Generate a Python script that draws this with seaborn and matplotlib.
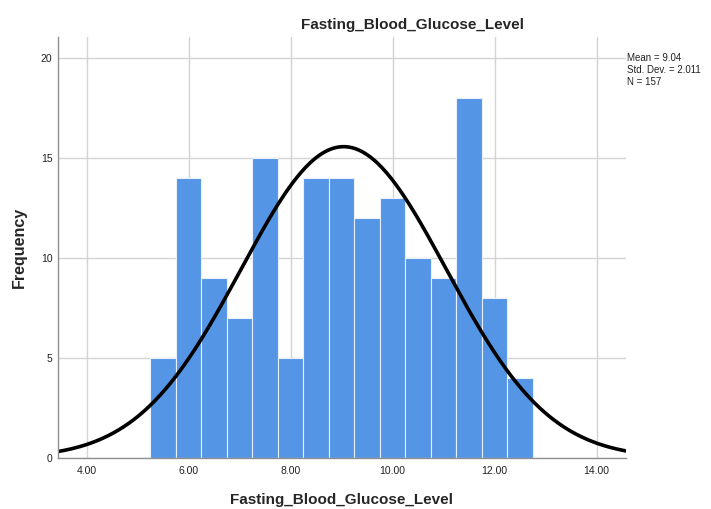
import numpy as np
import pandas as pd
import matplotlib
matplotlib.use("Agg")
import matplotlib.pyplot as plt
import seaborn as sns

# ── data ──
bin_left  = [5.25, 5.75, 6.25, 6.75, 7.25, 7.75, 8.25, 8.75,
             9.25, 9.75, 10.25, 10.75, 11.25, 11.75, 12.25]
counts    = [5, 14, 9, 7, 15, 5, 14, 14, 12, 13, 10, 9, 18, 8, 4]
BIN_W     = 0.5
MEAN, SD, N = 9.04, 2.011, 157

x_ticks  = [4, 6, 8, 10, 12, 14]
y_ticks  = [0, 5, 10, 15, 20]
VAR_NAME = "Fasting_Blood_Glucose_Level"

BAR_COLOR = "#5595e5"
GRID      = "#d4d4d4"

df = pd.DataFrame({"centre": np.array(bin_left) + BIN_W / 2, "count": counts})
edges = list(bin_left) + [bin_left[-1] + BIN_W]

sns.set_style("white")
plt.rcParams["font.family"] = ["Liberation Sans", "DejaVu Sans"]

fig = plt.figure(figsize=(7.11, 5.09), dpi=100)
ax = fig.add_axes([0.0816, 0.1002, 0.7984, 0.8268])

# grid behind bars
ax.set_axisbelow(True)
ax.grid(True, color=GRID, linewidth=1.0)

sns.histplot(data=df, x="centre", weights="count", bins=edges, ax=ax,
             color=BAR_COLOR, alpha=1.0, edgecolor="#e8f0fb", linewidth=0.8)

# fitted normal curve (scaled to counts)
xs = np.linspace(3.44, 14.57, 400)
ys = N * BIN_W * np.exp(-0.5 * ((xs - MEAN) / SD) ** 2) / (SD * np.sqrt(2 * np.pi))
sns.lineplot(x=xs, y=ys, ax=ax, color="black", linewidth=2.6)

ax.set_xlim(3.44, 14.57)
ax.set_ylim(0, 21.05)
ax.set_xticks(x_ticks)
ax.set_xticklabels([f"{t:.2f}" for t in x_ticks])
ax.set_yticks(y_ticks)
ax.tick_params(axis="both", labelsize=7.5, length=0, colors="#222222")
ax.tick_params(axis="x", pad=6)
ax.tick_params(axis="y", pad=4)

for s in ("top", "right"):
    ax.spines[s].set_visible(False)
for s in ("left", "bottom"):
    ax.spines[s].set_color("#909090")
    ax.spines[s].set_linewidth(1.0)

ax.set_xlabel(VAR_NAME, fontsize=11, fontweight="bold", labelpad=12)
ax.set_ylabel("Frequency", fontsize=11.5, fontweight="bold", labelpad=10)
fig.text(0.58, 0.951, VAR_NAME, fontsize=11, fontweight="bold",
         ha="center", va="center")

fig.text(0.882, 0.895, f"Mean = {MEAN:.2f}\nStd. Dev. = {SD:.3f}\nN = {N}",
         fontsize=7, ha="left", va="top", linespacing=1.2, color="#222222")

fig.savefig("out.png", dpi=100)
